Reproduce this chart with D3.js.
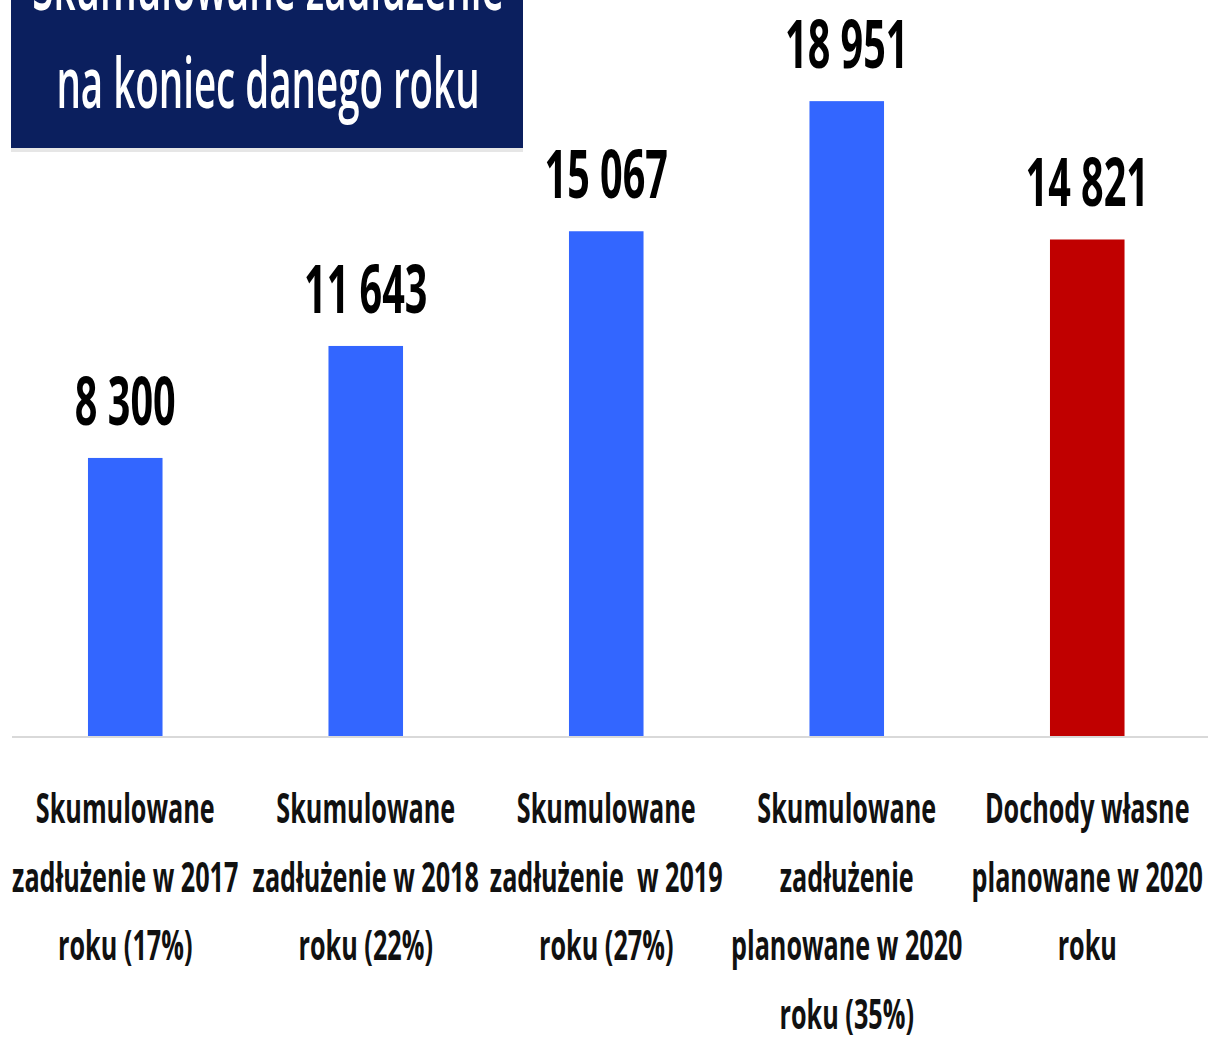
<!DOCTYPE html>
<html>
<head>
<meta charset="utf-8">
<script src="https://cdn.jsdelivr.net/npm/d3@7"></script>
<style>
  html, body { margin: 0; padding: 0; background: #ffffff; }
  svg { display: block; }
</style>
</head>
<body>
<div id="chart"></div>
<script>
// dane
const categories = ["s2017", "s2018", "s2019", "s2020", "d2020"];
const values = [8300, 11643, 15067, 18951, 14821];
const labels = [
  ["Skumulowane", "zadłużenie w 2017", "roku (17%)"],
  ["Skumulowane", "zadłużenie w 2018", "roku (22%)"],
  ["Skumulowane", "zadłużenie  w 2019", "roku (27%)"],
  ["Skumulowane", "zadłużenie", "planowane w 2020", "roku (35%)"],
  ["Dochody własne", "planowane w 2020", "roku"]
];
const titleLines = ["Skumulowane zadłużenie", "na koniec danego roku"];

const width = 1220;
const height = 1043;
const baseY = 736;
const sx = 0.6; // efekt czcionki zwężonej

const svg = d3.select("#chart")
  .append("svg")
  .attr("width", width)
  .attr("height", height);

// skale
const x = d3.scaleBand()
  .domain(categories)
  .range([5, 1207.5])
  .paddingInner(0.69)
  .paddingOuter(0.345);

const y = d3.scaleLinear()
  .domain([0, 20000])
  .range([baseY, baseY - 670]);

const fmt = d3.formatLocale({ decimal: ",", thousands: "\u00a0", grouping: [3], currency: ["", " zł"] }).format(",d");

// słupki
svg.append("g")
  .selectAll("rect")
  .data(values)
  .join("rect")
  .attr("x", (d, i) => x(categories[i]))
  .attr("y", d => y(d))
  .attr("width", x.bandwidth())
  .attr("height", d => y(0) - y(d))
  .attr("fill", (d, i) => i === 4 ? "#c00000" : "#3366ff");

// linia bazowa
svg.append("line")
  .attr("x1", 12).attr("x2", 1208)
  .attr("y1", baseY + 1).attr("y2", baseY + 1)
  .attr("stroke", "#d9d9d9")
  .attr("stroke-width", 2);

// etykiety wartości
svg.append("g")
  .selectAll("text")
  .data(values)
  .join("text")
  .attr("transform", (d, i) => `translate(${x(categories[i]) + x.bandwidth() / 2}, ${y(d) - 33}) scale(${sx}, 1)`)
  .attr("text-anchor", "middle")
  .style("font-family", "'Open Sans', sans-serif")
  .style("font-weight", 700)
  .style("font-size", "66px")
  .attr("fill", "#000")
  .text(d => fmt(d));

// etykiety kategorii
const cat = svg.append("g")
  .selectAll("g")
  .data(labels)
  .join("g")
  .attr("transform", (d, i) => `translate(${x(categories[i]) + x.bandwidth() / 2}, 0)`);

cat.selectAll("text")
  .data(d => d)
  .join("text")
  .attr("transform", (d, j) => `translate(0, ${823 + j * 68.5}) scale(${sx}, 1)`)
  .attr("text-anchor", "middle")
  .style("font-family", "'Open Sans', sans-serif")
  .style("font-weight", 700)
  .style("font-size", "42px")
  .style("white-space", "pre")
  .attr("fill", "#111")
  .text(d => d);

// tytuł w ramce
svg.append("rect")
  .attr("x", 11).attr("y", 148)
  .attr("width", 512).attr("height", 4)
  .attr("fill", "#e6e6e6");

svg.append("rect")
  .attr("x", 11).attr("y", 0)
  .attr("width", 512).attr("height", 148)
  .attr("fill", "#0b1f5e");

svg.append("g")
  .selectAll("text")
  .data(titleLines)
  .join("text")
  .attr("transform", (d, i) => `translate(268, ${10 + i * 98}) scale(0.55, 1)`)
  .attr("text-anchor", "middle")
  .style("font-family", "'Open Sans', sans-serif")
  .style("font-weight", 600)
  .style("font-size", "70px")
  .attr("fill", "#ffffff")
  .text(d => d);
</script>
</body>
</html>
